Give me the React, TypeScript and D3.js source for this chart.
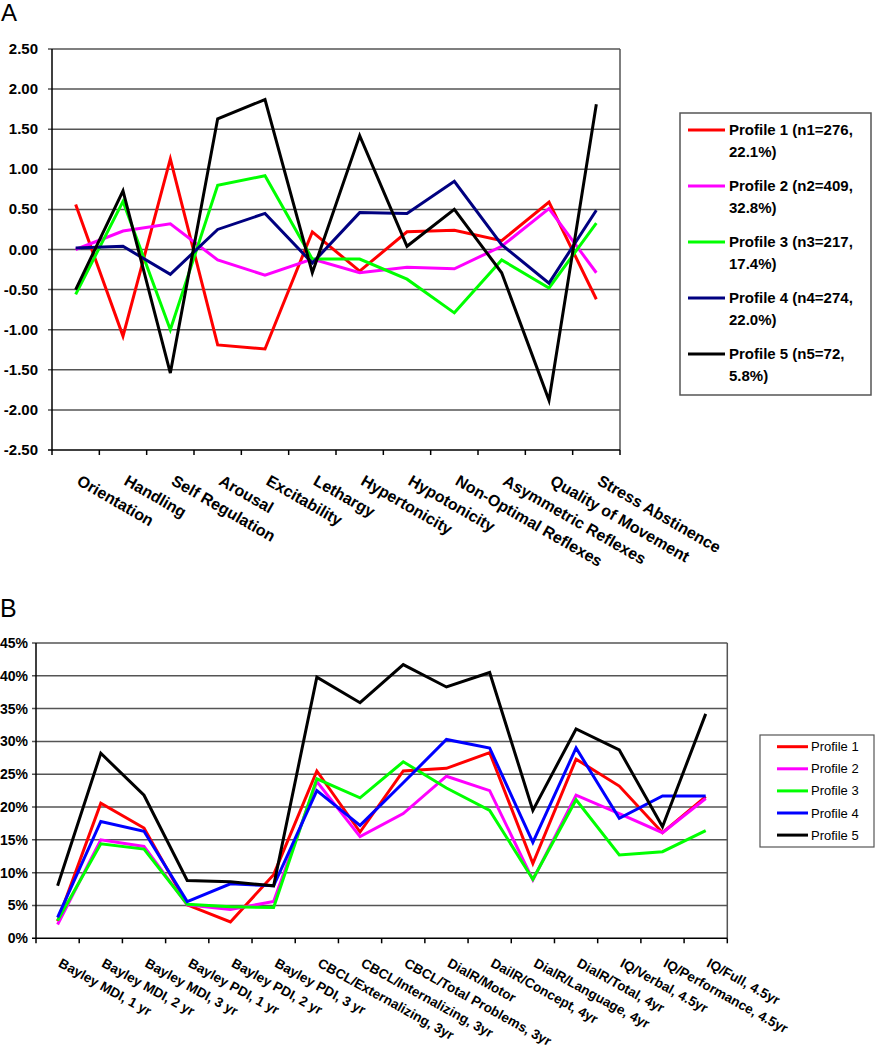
import React, { useRef, useEffect } from "react";
import * as d3 from "d3";

// Panel A: NNNS summary scores per profile
const catsA = [
  "Orientation",
  "Handling",
  "Self Regulation",
  "Arousal",
  "Excitability",
  "Lethargy",
  "Hypertonicity",
  "Hypotonicity",
  "Non-Optimal Reflexes",
  "Asymmetric Reflexes",
  "Quality of Movement",
  "Stress Abstinence",
];
const profile1A = [0.56, -1.08, 1.13, -1.19, -1.24, 0.22, -0.27, 0.22, 0.24, 0.11, 0.59, -0.62];
const profile2A = [0.0, 0.23, 0.32, -0.13, -0.32, -0.12, -0.29, -0.22, -0.24, 0.04, 0.51, -0.29];
const profile3A = [-0.56, 0.6, -1.0, 0.8, 0.92, -0.12, -0.12, -0.37, -0.79, -0.13, -0.48, 0.33];
const profile4A = [0.02, 0.04, -0.31, 0.25, 0.45, -0.17, 0.46, 0.45, 0.85, 0.06, -0.42, 0.49];
const profile5A = [-0.5, 0.73, -1.54, 1.63, 1.87, -0.29, 1.42, 0.04, 0.5, -0.29, -1.88, 1.81];
const ticksA = [-2.5, -2.0, -1.5, -1.0, -0.5, 0, 0.5, 1.0, 1.5, 2.0, 2.5];
const legendA = [
  ["Profile 1 (n1=276,", "22.1%)"],
  ["Profile 2 (n2=409,", "32.8%)"],
  ["Profile 3 (n3=217,", "17.4%)"],
  ["Profile 4 (n4=274,", "22.0%)"],
  ["Profile 5 (n5=72,", "5.8%)"],
];
const colorsA = ["#ff0000", "#ff00ff", "#00ff00", "#000080", "#000000"];

// Panel B: % with outcome problems per profile
const catsB = [
  "Bayley MDI, 1 yr",
  "Bayley MDI, 2 yr",
  "Bayley MDI, 3 yr",
  "Bayley PDI, 1 yr",
  "Bayley PDI, 2 yr",
  "Bayley PDI, 3 yr",
  "CBCL/Externalizing, 3yr",
  "CBCL/Internalizing, 3yr",
  "CBCL/Total Problems, 3yr",
  "DialR/Motor",
  "DailR/Concept, 4yr",
  "DialR/Language, 4yr",
  "DialR/Total, 4yr",
  "IQ/Verbal, 4.5yr",
  "IQ/Performance, 4.5yr",
  "IQ/Full, 4.5yr",
];
const profile1B = [2.6, 20.6, 16.8, 5.1, 2.5, 9.7, 25.5, 16.2, 25.5, 25.9, 28.3, 11.4, 27.3, 23.2, 16.1, 21.6];
const profile2B = [2.1, 15.0, 14.0, 5.1, 4.4, 5.6, 23.9, 15.5, 19.0, 24.7, 22.5, 8.9, 21.8, 19.0, 16.1, 21.3];
const profile3B = [2.7, 14.4, 13.6, 5.2, 4.8, 4.7, 24.3, 21.4, 26.9, 22.9, 19.5, 9.0, 21.1, 12.7, 13.2, 16.4];
const profile4B = [3.2, 17.8, 16.3, 5.6, 8.3, 8.0, 22.5, 17.2, 23.7, 30.3, 29.0, 14.6, 29.0, 18.3, 21.7, 21.7];
const profile5B = [8.0, 28.2, 21.8, 8.8, 8.6, 8.0, 39.8, 35.9, 41.7, 38.3, 40.5, 19.5, 31.9, 28.7, 17.0, 34.2];
const ticksB = [0, 5, 10, 15, 20, 25, 30, 35, 40, 45];
const legendB = ["Profile 1", "Profile 2", "Profile 3", "Profile 4", "Profile 5"];
const colorsB = ["#ff0000", "#ff00ff", "#00ff00", "#0000ff", "#000000"];

const FONT = "'Liberation Sans', Arial, sans-serif";
const GRID = "#555";

const App = () => {
  const ref = useRef<SVGSVGElement>(null);

  useEffect(() => {
    const svg = d3.select(ref.current);
    svg.selectChildren().remove();
    svg.style("font-family", FONT);

    // ---------- Panel A ----------
    const a = svg.append("g");
    a.append("text").attr("x", 1).attr("y", 21).style("font-size", "24px").text("A");

    const xA = d3.scaleBand().domain(catsA).range([52, 620]);
    const yA = d3.scaleLinear().domain([-2.5, 2.5]).range([450, 49]);

    // rejilla
    a.selectAll("line.grid")
      .data(ticksA.slice(1))
      .enter()
      .append("line")
      .attr("x1", 48)
      .attr("x2", 620)
      .attr("y1", (d) => yA(d))
      .attr("y2", (d) => yA(d))
      .attr("stroke", GRID)
      .attr("stroke-width", 1.5);
    a.append("line")
      .attr("x1", 620)
      .attr("x2", 620)
      .attr("y1", yA(2.5))
      .attr("y2", yA(-2.5))
      .attr("stroke", GRID)
      .attr("stroke-width", 1.5);

    // ejes
    a.append("line")
      .attr("x1", 52).attr("x2", 52)
      .attr("y1", yA(2.5)).attr("y2", yA(-2.5))
      .attr("stroke", "#000").attr("stroke-width", 1.5);
    a.append("line")
      .attr("x1", 48).attr("x2", 620)
      .attr("y1", yA(-2.5)).attr("y2", yA(-2.5))
      .attr("stroke", "#000").attr("stroke-width", 1.5);
    a.selectAll("line.xt")
      .data(d3.range(catsA.length + 1))
      .enter()
      .append("line")
      .attr("x1", (i) => 52 + i * xA.step())
      .attr("x2", (i) => 52 + i * xA.step())
      .attr("y1", yA(-2.5))
      .attr("y2", yA(-2.5) + 5)
      .attr("stroke", "#000")
      .attr("stroke-width", 1.5);

    a.selectAll("text.yl")
      .data(ticksA)
      .enter()
      .append("text")
      .attr("x", 38)
      .attr("y", (d) => yA(d) + 5)
      .attr("text-anchor", "end")
      .style("font-size", "15px")
      .style("font-weight", "bold")
      .text((d) => d3.format(".2f")(d).replace("−", "-"));

    a.selectAll("text.xl")
      .data(catsA)
      .enter()
      .append("text")
      .attr("transform", (d) => `translate(${xA(d)! + xA.bandwidth() / 2}, 484) rotate(30)`)
      .style("font-size", "16px")
      .style("font-weight", "bold")
      .text((d) => d);

    const lineA = d3
      .line<number>()
      .x((_, i) => xA(catsA[i])! + xA.bandwidth() / 2)
      .y((d) => yA(d));
    [profile1A, profile2A, profile3A, profile4A, profile5A].forEach((s, k) => {
      a.append("path")
        .attr("d", lineA(s))
        .attr("fill", "none")
        .attr("stroke", colorsA[k])
        .attr("stroke-width", 3)
        .attr("stroke-linejoin", "miter");
    });

    // leyenda A
    a.append("rect")
      .attr("x", 680).attr("y", 113)
      .attr("width", 191).attr("height", 282)
      .attr("fill", "white").attr("stroke", GRID).attr("stroke-width", 1.5);
    legendA.forEach((lbl, k) => {
      const y = 130 + k * 56;
      a.append("line")
        .attr("x1", 688).attr("x2", 725).attr("y1", y).attr("y2", y)
        .attr("stroke", colorsA[k]).attr("stroke-width", 3);
      const t = a.append("text")
        .attr("x", 729).attr("y", y + 5)
        .style("font-size", "15px").style("font-weight", "bold");
      t.append("tspan").attr("x", 729).text(lbl[0]);
      t.append("tspan").attr("x", 729).attr("dy", 21.7).text(lbl[1]);
    });

    // ---------- Panel B ----------
    const b = svg.append("g");
    b.append("text").attr("x", 0).attr("y", 617).style("font-size", "25px").text("B");

    const xB = d3.scaleBand().domain(catsB).range([36, 727.3]);
    const yB = d3.scaleLinear().domain([0, 45]).range([938.3, 643]);

    b.selectAll("line.grid")
      .data(ticksB.slice(1))
      .enter()
      .append("line")
      .attr("x1", 32).attr("x2", 727.3)
      .attr("y1", (d) => yB(d)).attr("y2", (d) => yB(d))
      .attr("stroke", GRID).attr("stroke-width", 1.5);
    b.append("line")
      .attr("x1", 727.3).attr("x2", 727.3)
      .attr("y1", yB(45)).attr("y2", yB(0))
      .attr("stroke", GRID).attr("stroke-width", 1.5);
    b.append("line")
      .attr("x1", 36).attr("x2", 36)
      .attr("y1", yB(45)).attr("y2", yB(0))
      .attr("stroke", "#000").attr("stroke-width", 1.5);
    b.append("line")
      .attr("x1", 32).attr("x2", 727.3)
      .attr("y1", yB(0)).attr("y2", yB(0))
      .attr("stroke", "#000").attr("stroke-width", 1.5);
    b.selectAll("line.xt")
      .data(d3.range(catsB.length + 1))
      .enter()
      .append("line")
      .attr("x1", (i) => 36 + i * xB.step())
      .attr("x2", (i) => 36 + i * xB.step())
      .attr("y1", yB(0))
      .attr("y2", yB(0) + 5)
      .attr("stroke", "#000")
      .attr("stroke-width", 1.5);

    b.selectAll("text.yl")
      .data(ticksB)
      .enter()
      .append("text")
      .attr("x", 28)
      .attr("y", (d) => yB(d) + 5)
      .attr("text-anchor", "end")
      .style("font-size", "14px")
      .style("font-weight", "bold")
      .text((d) => `${d}%`);

    b.selectAll("text.xl")
      .data(catsB)
      .enter()
      .append("text")
      .attr("transform", (d) => `translate(${xB(d)! + xB.bandwidth() / 2}, 966) rotate(29)`)
      .style("font-size", "13.5px")
      .style("font-weight", "bold")
      .text((d) => d);

    const lineB = d3
      .line<number>()
      .x((_, i) => xB(catsB[i])! + xB.bandwidth() / 2)
      .y((d) => yB(d));
    [profile1B, profile2B, profile3B, profile4B, profile5B].forEach((s, k) => {
      b.append("path")
        .attr("d", lineB(s))
        .attr("fill", "none")
        .attr("stroke", colorsB[k])
        .attr("stroke-width", 3);
    });

    // leyenda B
    b.append("rect")
      .attr("x", 760).attr("y", 735)
      .attr("width", 114).attr("height", 112)
      .attr("fill", "white").attr("stroke", GRID).attr("stroke-width", 1.2);
    legendB.forEach((lbl, k) => {
      const y = 746.7 + k * 22.1;
      b.append("line")
        .attr("x1", 777).attr("x2", 808).attr("y1", y).attr("y2", y)
        .attr("stroke", colorsB[k]).attr("stroke-width", 3);
      b.append("text")
        .attr("x", 811).attr("y", y + 4.5)
        .style("font-size", "13px")
        .text(lbl);
    });
  }, []);

  return (
    <svg
      ref={ref}
      width={875}
      height={1050}
      style={{ position: "absolute", left: 0, top: 0, background: "white" }}
    />
  );
};

export default App;
